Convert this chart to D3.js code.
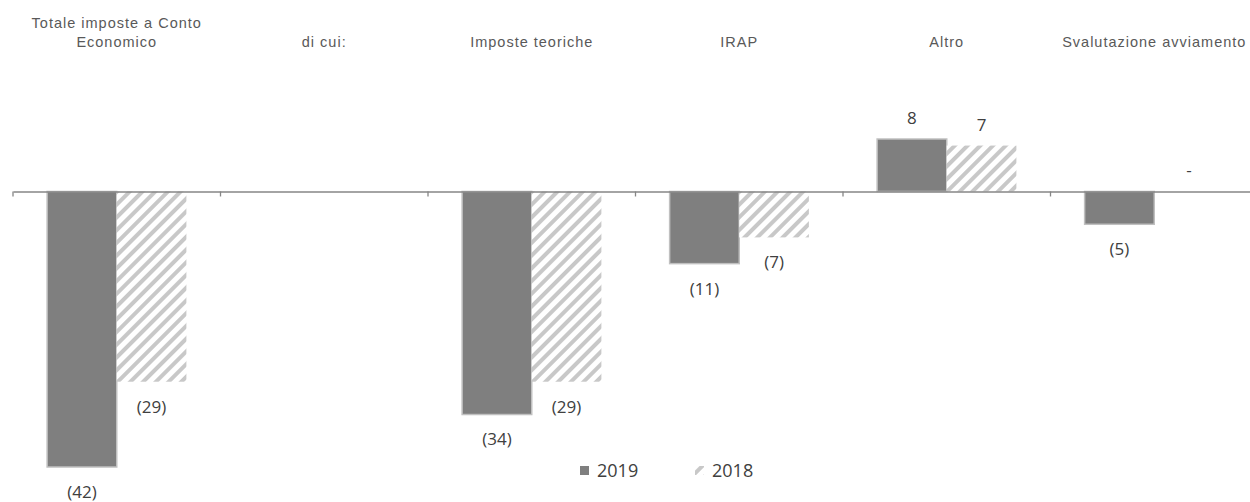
<!DOCTYPE html>
<html>
<head>
<meta charset="utf-8">
<script src="https://cdn.jsdelivr.net/npm/d3@7"></script>
<style>
  body { margin: 0; background: #fff; }
  svg { display: block; }
</style>
</head>
<body>
<script>
var width = 1250, height = 502;

// data
var categories = ['Totale imposte a Conto Economico', 'di cui:', 'Imposte teoriche', 'IRAP', 'Altro', 'Svalutazione avviamento'];
var labelLines = [['Totale imposte a Conto', 'Economico'], ['di cui:'], ['Imposte teoriche'], ['IRAP'], ['Altro'], ['Svalutazione avviamento']];
var series = ['2019', '2018'];
var values2019 = [-42, null, -34, -11, 8, -5];
var values2018 = [-29, null, -29, -7, 7, 0];

var rows = categories.map(function (c, i) {
    return { cat: c, vals: [{ s: '2019', v: values2019[i] }, { s: '2018', v: values2018[i] }] };
});

var svg = d3.select('body').append('svg')
    .attr('width', width)
    .attr('height', height);

var defs = svg.append('defs');
var pat = defs.append('pattern')
    .attr('id', 'hatch')
    .attr('patternUnits', 'userSpaceOnUse')
    .attr('width', 9)
    .attr('height', 9)
    .attr('patternTransform', 'rotate(45)');
pat.append('rect').attr('width', 9).attr('height', 9).attr('fill', '#fff');
pat.append('rect').attr('x', 0).attr('width', 4).attr('height', 9).attr('fill', '#c8c8c8');

var x0 = d3.scaleBand().domain(categories).range([13, 1258]).paddingInner(0).paddingOuter(0);
var x1 = d3.scaleBand().domain(series).range([0, x0.bandwidth()]).paddingInner(0).paddingOuter(0.49);
var y = d3.scaleLinear().domain([-42, 8]).range([467, 139]);

// category labels on top
var lab = svg.append('g')
    .attr('font-family', '"Liberation Sans", Arial, sans-serif')
    .attr('font-size', 14.5)
    .attr('letter-spacing', '1px')
    .attr('fill', '#595959')
    .attr('text-anchor', 'middle');
categories.forEach(function (c, i) {
    var lines = labelLines[i];
    var cx = x0(c) + x0.bandwidth() / 2;
    var t = lab.append('text')
        .attr('x', cx)
        .attr('y', 47 - (lines.length - 1) * 19);
    lines.forEach(function (l, j) {
        t.append('tspan')
            .attr('x', cx)
            .attr('dy', j === 0 ? 0 : 19)
            .text(l);
    });
});

// bars
var groups = svg.append('g').selectAll('g')
    .data(rows)
    .enter()
    .append('g')
    .attr('transform', function (d) { return 'translate(' + x0(d.cat) + ',0)'; });

groups.selectAll('rect')
    .data(function (d) { return d.vals.filter(function (e) { return e.v !== null && e.v !== 0; }); })
    .enter()
    .append('rect')
    .attr('x', function (d) { return x1(d.s); })
    .attr('width', x1.bandwidth())
    .attr('y', function (d) { return y(Math.max(0, d.v)); })
    .attr('height', function (d) { return Math.abs(y(d.v) - y(0)); })
    .attr('fill', function (d) { return d.s === '2019' ? '#7f7f7f' : 'url(#hatch)'; })
    .attr('stroke', function (d) { return d.s === '2019' ? '#c0c0c0' : 'none'; })
    .attr('stroke-width', 1.5);

// axis line at zero
var axis = svg.append('g')
    .attr('transform', 'translate(0,' + y(0) + ')')
    .call(d3.axisBottom(x0).tickSize(0).tickFormat(''));
axis.select('.domain').attr('stroke', '#868686').attr('stroke-width', 1.3);
axis.selectAll('.tick').remove();
var bounds = categories.map(function (c) { return x0(c); });
axis.selectAll('line.sep')
    .data(bounds)
    .enter()
    .append('line')
    .attr('class', 'sep')
    .attr('x1', function (d) { return d; })
    .attr('x2', function (d) { return d; })
    .attr('y1', 0)
    .attr('y2', 5)
    .attr('stroke', '#868686')
    .attr('stroke-width', 1.3);

// value labels
function fmt(v) {
    if (v === 0) return '-';
    if (v < 0) return '(' + Math.abs(v) + ')';
    return String(v);
}
groups.selectAll('text')
    .data(function (d) { return d.vals.filter(function (e) { return e.v !== null; }); })
    .enter()
    .append('text')
    .attr('x', function (d) { return x1(d.s) + x1.bandwidth() / 2; })
    .attr('y', function (d) { return d.v < 0 ? y(d.v) + 25 : y(d.v) - 21; })
    .attr('dy', '0.35em')
    .attr('text-anchor', 'middle')
    .attr('font-family', '"Open Sans", sans-serif')
    .attr('font-size', 17)
    .attr('fill', '#404040')
    .text(function (d) { return fmt(d.v); });

// legend
var leg = svg.append('g').attr('transform', 'translate(580,471)');
var legItems = [{ s: '2019', x: 0 }, { s: '2018', x: 115 }];
legItems.forEach(function (it) {
    leg.append('rect')
        .attr('x', it.x)
        .attr('y', -5)
        .attr('width', 9)
        .attr('height', 9)
        .attr('fill', it.s === '2019' ? '#7f7f7f' : 'url(#hatch)');
    leg.append('text')
        .attr('x', it.x + 17)
        .attr('y', 0)
        .attr('dy', '0.35em')
        .attr('font-family', '"Open Sans", sans-serif')
        .attr('font-size', 18)
        .attr('fill', '#404040')
        .text(it.s);
});
</script>
</body>
</html>
